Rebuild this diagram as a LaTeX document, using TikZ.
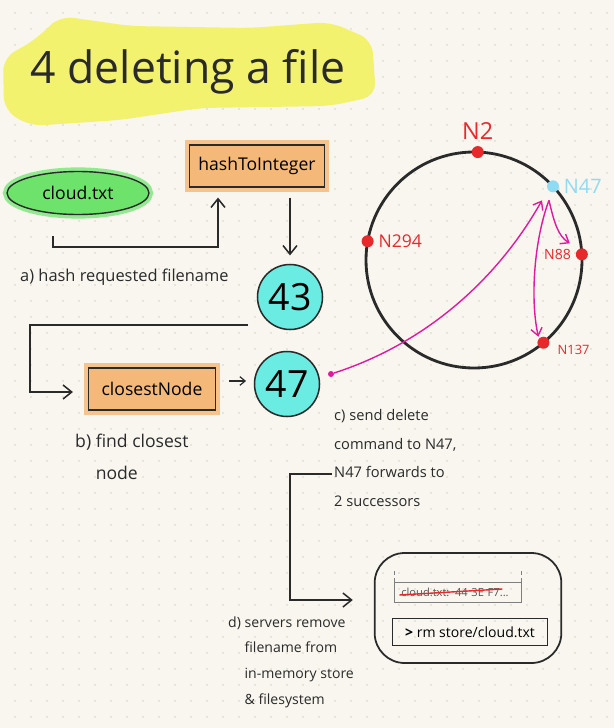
\documentclass[tikz,border=0pt]{standalone}
\usepackage{fontspec}
\setmainfont{Open Sans}
\usetikzlibrary{arrows.meta,shapes.geometric,positioning,calc}

\definecolor{paper}{HTML}{F8F6EE}
\definecolor{griddot}{HTML}{D6D2C6}
\definecolor{marker}{HTML}{F3F26E}
\definecolor{leaf}{HTML}{6DE36B}
\definecolor{peach}{HTML}{F4B878}
\definecolor{aqua}{HTML}{6AECE2}
\definecolor{ringred}{HTML}{E8292B}
\definecolor{skyblue}{HTML}{8FDBF4}
\definecolor{pink}{HTML}{E01AA0}
\definecolor{ink}{HTML}{2A2A2A}

\begin{document}
\begin{tikzpicture}[x=0.3mm,y=-0.3mm,
	arr/.style={draw=ink,line width=1.3pt,-{Straight Barb[length=2.6mm,width=4.2mm]}},
	fnbox/.style={draw=ink,line width=1pt,fill=peach,preaction={draw=peach!85,line width=8pt},minimum height=12.6mm,font=\fontsize{15}{18}\selectfont},
	hashnum/.style={circle,draw=ink,line width=1.3pt,fill=aqua,minimum size=19.5mm,inner sep=0pt,font=\fontsize{32}{36}\selectfont},
	ringdot/.style={circle,fill=ringred,minimum size=3.6mm,inner sep=0pt},
	ringlbl/.style={text=ringred,inner sep=1pt},
	note/.style={text=ink,align=left,anchor=west,inner sep=0pt},
	sendarr/.style={draw=pink,line width=1.2pt,-{Straight Barb[length=2.2mm,width=3.4mm]}}]

	\useasboundingbox (0,0) rectangle (614,728);
	\fill[paper] (0,0) rectangle (614,728);
	\foreach \i in {0,...,37}
		\foreach \j in {0,...,44}
			\fill[griddot] (16*\i+15,16*\j+13) circle[radius=0.9];

	% title
	\fill[marker,rounded corners=4mm] (3,58) -- (35,40) -- (60,16) -- (130,26) -- (250,28) -- (330,22) -- (372,40) -- (376,96) -- (330,106) -- (200,108) -- (120,120) -- (30,126) -- (4,110) -- cycle;
	\node[text=ink,font=\fontsize{38}{44}\selectfont] (title) at (188,72) {4 deleting a file};

	% a) hash the filename
	\node[ellipse,draw=ink,line width=1.2pt,fill=leaf,preaction={draw=leaf!75,line width=7pt},minimum width=42.6mm,minimum height=12.9mm,font=\fontsize{15}{18}\selectfont] (cloud) at (78,193) {cloud.txt};
	\node[fnbox,minimum width=40.5mm] (hash) at (257,166) {hashToInteger};
	\node[hashnum] (n43) at (290,297) {43};
	\coordinate (fileout) at (53,236);
	\draw[arr] (fileout) -- ++(0,11) -| ($(hash.south)+(-39,10)$);
	\draw[arr,shorten <=3mm,shorten >=2.5mm] (hash.south -| n43) -- (n43.north);
	\node[note,font=\fontsize{14}{17}\selectfont] (lbla) at (20,277) {a) hash requested filename};

	% b) closest node
	\node[fnbox,minimum width=38.1mm] (closest) at (152,389) {closestNode};
	\node[hashnum] (n47) at (287,384) {47};
	\draw[arr] ($(n43.center)+(-42,28)$) -- ++(-218,0) |- ($(closest.west)+(-15,3)$);
	\draw[arr,line width=1pt,-{Straight Barb[length=1.6mm,width=2.6mm]}] ($(closest.east)+(13,-8)$) -- ++(17,0);
	\node[note,font=\fontsize{15}{27}\selectfont] (lblb) at (75,458) {b) find closest\\\phantom{b) }node};

	% ring
	\node[circle,draw=ink,line width=2.4pt,outer sep=0pt,minimum size=64.8mm] (ring) at (474,260) {};
	\node[ringdot] (n2) at (ring.88) {};
	\node[ringdot] (n294) at (ring.170) {};
	\node[ringdot] (n88) at (ring.3) {};
	\node[ringdot] (n137) at (ring.-50) {};
	\node[ringdot,fill=skyblue] (n47r) at (ring.43) {};
	\node[ringlbl,above=1.5mm of n2,font=\fontsize{20}{24}\selectfont] (l2) {N2};
	\node[ringlbl,right=1mm of n294,font=\fontsize{15}{18}\selectfont] (l294) {N294};
	\node[ringlbl,left=1mm of n88,font=\fontsize{12}{14}\selectfont] (l88) {N88};
	\node[ringlbl,right=2mm of n137,yshift=-2mm,font=\fontsize{11}{13}\selectfont] (l137) {N137};
	\node[ringlbl,text=skyblue,right=1mm of n47r,font=\fontsize{17}{20}\selectfont] (l47) {N47};

	% c) send delete
	\node[circle,fill=pink,inner sep=0pt,minimum size=1.8mm] (src) at (331,374) {};
	\draw[sendarr] (src) .. controls (430,342) and (500,275) .. ($(n47r)+(-11,14)$);
	\draw[sendarr] ($(n47r)+(-4,14)$) .. controls (554,222) and (558,236) .. ($(n88)+(-12,-11)$);
	\draw[sendarr] ($(n47r)+(-4,14)$) .. controls (534,240) and (530,300) .. ($(n137)+(-5,-6)$);
	\node[note,font=\fontsize{12.5}{24.5}\selectfont] (lblc) at (334,458) {c) send delete\\command to N47,\\N47 forwards to\\2 successors};

	% d) servers
	\node[draw=ink,line width=1.5pt,rounded corners=9mm,minimum width=56mm,minimum height=33mm] (server) at (468,608) {};
	\node[draw=ink!60,line width=0.6pt,minimum width=38mm,minimum height=6mm,text width=34mm,inner xsep=1.5mm,text=ink!80,font=\fontsize{9.5}{11}\selectfont] (memrow) at (458,592) {cloud.txt: 44 3E F7...};
	\draw[ringred,line width=1.2pt] ($(memrow.west)+(5,3)$) -- ($(memrow.west)+(108,-3)$);
	\draw[ink!60,dashed,line width=0.5pt] (memrow.north west) -- ++(0,-14);
	\draw[ink!60,dashed,line width=0.5pt] (memrow.north east) -- ++(0,-14);
	\node[draw=ink,line width=1.3pt,minimum width=46.5mm,minimum height=8.1mm,font=\fontsize{12}{14}\selectfont] (cmd) at (470,632) {\textbf{>} rm store/cloud.txt};
	\draw[arr] ($(lblc.west)+(-2,16)$) -- ++(-42,0) |- ($(server.west)+(-21,-8)$);
	\node[note,font=\fontsize{12}{22}\selectfont] (lbld) at (228,662) {d) servers remove\\\phantom{d) }filename from\\\phantom{d) }in-memory store\\\phantom{d) }\& filesystem};
\end{tikzpicture}
\end{document}
